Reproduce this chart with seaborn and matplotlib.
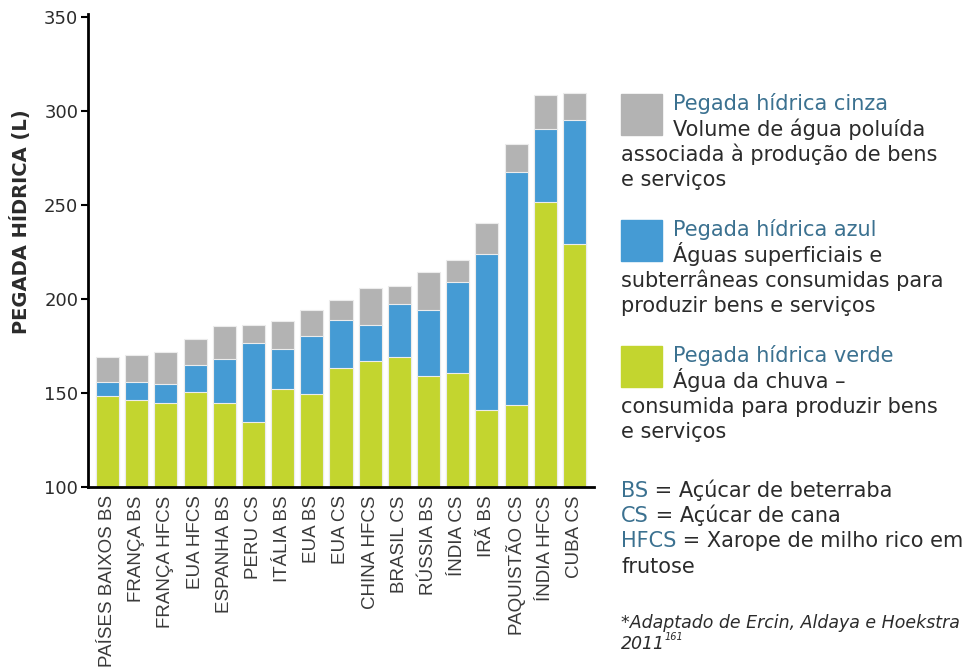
import pandas as pd
import seaborn as sns
import matplotlib.pyplot as plt

# values (litres)
produtos = ['PAÍSES BAIXOS BS', 'FRANÇA BS', 'FRANÇA HFCS', 'EUA HFCS', 'ESPANHA BS',
            'PERU CS', 'ITÁLIA BS', 'EUA BS', 'EUA CS', 'CHINA HFCS', 'BRASIL CS',
            'RÚSSIA BS', 'ÍNDIA CS', 'IRÃ BS', 'PAQUISTÃO CS', 'ÍNDIA HFCS', 'CUBA CS']
verde = [148.4, 146.4, 144.6, 150.5, 144.6, 134.8, 152.3, 149.4, 163.5,
         167.2, 169.3, 159.2, 160.6, 140.7, 143.6, 251.6, 229.1]
azul = [7.4, 9.4, 10.3, 14.2, 23.7, 41.8, 21.3, 30.8, 25.4,
        19.2, 27.8, 35.0, 48.2, 83.2, 123.7, 39.0, 66.3]
cinza = [13.5, 14.2, 16.9, 14.1, 17.2, 9.8, 14.9, 13.7, 10.8,
         19.6, 9.7, 20.1, 12.1, 16.7, 15.1, 17.8, 13.9]
y_ticks = [100, 150, 200, 250, 300, 350]

COR_CINZA = '#b3b3b3'
COR_AZUL = '#459bd4'
COR_VERDE = '#c3d52f'
COR_TITULO = '#3b7190'
COR_TEXTO = '#2b2b2b'

df = pd.DataFrame({'produto': produtos, 'verde': verde, 'azul': azul, 'cinza': cinza})
df['topo_azul'] = df['verde'] + df['azul']
df['total'] = df['topo_azul'] + df['cinza']

sns.set_style('white')
plt.rcParams['font.family'] = ['DejaVu Sans']

fig = plt.figure(figsize=(9.77, 6.69), dpi=100)
ax = fig.add_axes([0.090, 0.272, 0.518, 0.707])

# stacked bars drawn back to front
bar_kw = dict(width=0.79, edgecolor='#ececec', linewidth=0.8, ax=ax)
sns.barplot(data=df, x='produto', y='total', color=COR_CINZA, saturation=1, **bar_kw)
sns.barplot(data=df, x='produto', y='topo_azul', color=COR_AZUL, saturation=1, **bar_kw)
sns.barplot(data=df, x='produto', y='verde', color=COR_VERDE, saturation=1, **bar_kw)

ax.set_ylim(100, 351.5)
ax.set_xlim(-0.67, len(produtos) - 0.33)
ax.set_yticks(y_ticks)
ax.set_yticklabels([str(v) for v in y_ticks], fontsize=13, color=COR_TEXTO)
ax.set_xticks(range(len(produtos)))
ax.set_xticklabels(produtos, rotation=90, fontsize=13.5, color='#3a3a3a',
                   family='Liberation Sans')
ax.tick_params(axis='y', direction='out', length=5, width=1.5, color='black', pad=2, left=True)
ax.tick_params(axis='x', length=0, pad=6)
ax.set_xlabel('')
ax.set_ylabel('PEGADA HÍDRICA (L)', fontsize=14, fontweight='bold', color=COR_TEXTO)
ax.yaxis.set_label_coords(-0.113, 0.56)
sns.despine(ax=ax)
for lado in ['left', 'bottom']:
    ax.spines[lado].set_color('black')
    ax.spines[lado].set_linewidth(2)

# legend drawn as squares + text
W, H = 977, 669


def fx(px):
    return px / W


def fy(py):
    return 1 - py / H


blocos = [
    (COR_CINZA, 94, 'Pegada hídrica cinza', ['Volume de água poluída'],
     ['associada à produção de bens', 'e serviços']),
    (COR_AZUL, 220, 'Pegada hídrica azul', ['Águas superficiais e'],
     ['subterrâneas consumidas para', 'produzir bens e serviços']),
    (COR_VERDE, 346, 'Pegada hídrica verde', ['Água da chuva –'],
     ['consumida para produzir bens', 'e serviços']),
]
passo = 25.3
fs = 15
for cor, topo, titulo, recuadas, linhas in blocos:
    fig.patches.append(plt.Rectangle((fx(621), fy(topo + 41)), fx(662) - fx(621), 41 / H,
                                     transform=fig.transFigure, color=cor))
    base = topo + 16.5
    fig.text(fx(673), fy(base), titulo, fontsize=fs, color=COR_TITULO, va='baseline')
    for i, t in enumerate(recuadas):
        fig.text(fx(673), fy(base + passo * (i + 1)), t, fontsize=fs, color=COR_TEXTO, va='baseline')
    for i, t in enumerate(linhas):
        fig.text(fx(621), fy(base + passo * (len(recuadas) + i + 1)), t, fontsize=fs,
                 color=COR_TEXTO, va='baseline')

siglas = [('BS', ' = Açúcar de beterraba'), ('CS', ' = Açúcar de cana'),
          ('HFCS', ' = Xarope de milho rico em')]
for i, (sigla, resto) in enumerate(siglas):
    t = fig.text(fx(621), fy(496.7 + passo * i), sigla, fontsize=fs, color=COR_TITULO, va='baseline')
    ax.annotate(resto, xy=(1, 0), xycoords=t, va='bottom', ha='left',
                fontsize=fs, color=COR_TEXTO, annotation_clip=False)
fig.text(fx(621), fy(496.7 + passo * 3), 'frutose', fontsize=fs, color=COR_TEXTO, va='baseline')

fig.text(fx(621), fy(628), '*Adaptado de Ercin, Aldaya e Hoekstra', fontsize=12.5,
         style='italic', color=COR_TEXTO, va='baseline')
ano = fig.text(fx(621), fy(649), '2011', fontsize=12.5, style='italic', color=COR_TEXTO, va='baseline')
ax.annotate('161', xy=(1, 0.6), xycoords=ano, va='bottom', ha='left', fontsize=7,
            style='italic', color=COR_TEXTO, annotation_clip=False)

plt.savefig('out.png', dpi=100)
